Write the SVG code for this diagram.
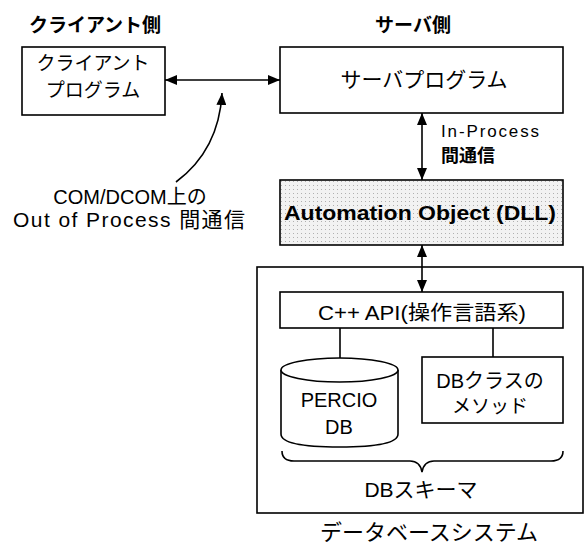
<svg xmlns="http://www.w3.org/2000/svg" width="585" height="545" viewBox="0 0 585 545">
<style>
text{font-family:"Liberation Sans","Noto Sans CJK JP",sans-serif;fill:#000;text-anchor:middle}
.jp{font-family:"Noto Sans CJK JP",sans-serif}
.b{font-weight:bold}
.box{fill:#fff;stroke:#000;stroke-width:1.6}
.ln{fill:none;stroke:#000;stroke-width:1.6}
</style>
<defs>
<marker id="ah" viewBox="0 0 12 10" refX="12" refY="5" markerWidth="12" markerHeight="10" markerUnits="userSpaceOnUse" orient="auto-start-reverse">
<path d="M0,0 L12,5 L0,10 Z" fill="#000"/>
</marker>
<pattern id="dots" width="4" height="4" patternUnits="userSpaceOnUse">
<rect width="4" height="4" fill="#f2f2f2"/>
<rect x="1" y="1" width="1" height="1" fill="#b0b0b0"/>
</pattern>
</defs>

<text class="jp b" x="95" y="32" font-size="19">クライアント側</text>
<text class="jp b" x="413" y="32" font-size="19">サーバ側</text>

<g id="client">
<rect class="box" x="22" y="47" width="143" height="68"/>
<text class="jp" x="93" y="70" font-size="19">クライアント</text>
<text class="jp" x="93" y="97" font-size="19">プログラム</text>
</g>

<g id="server">
<rect class="box" x="280" y="47" width="283" height="66"/>
<text class="jp" x="424" y="87" font-size="21">サーバプログラム</text>
</g>

<g id="automation">
<rect x="280" y="180" width="283" height="65" fill="url(#dots)" stroke="#000" stroke-width="1.6"/>
<text class="b" x="420" y="220" font-size="20" textLength="272" lengthAdjust="spacingAndGlyphs">Automation Object (DLL)</text>
</g>

<g id="dbsystem">
<rect class="ln" x="257" y="267" width="326" height="246"/>
<text class="jp" x="429" y="540" font-size="22">データベースシステム</text>
</g>

<g id="cppapi">
<rect class="box" x="280" y="292" width="283" height="36"/>
<text x="422" y="320" font-size="20" textLength="208" lengthAdjust="spacingAndGlyphs">C++ API(操作言語系)</text>
</g>

<g id="perciodb">
<path class="box" d="M281,370 L281,434 Q281,447 339.5,447 Q398,447 398,434 L398,370"/>
<ellipse class="box" cx="339.5" cy="370" rx="58.5" ry="12"/>
<text x="339" y="407" font-size="20">PERCIO</text>
<text x="339" y="434" font-size="20">DB</text>
</g>

<g id="dbclass">
<rect class="box" x="422" y="357" width="141" height="66"/>
<text x="490" y="388" font-size="20">DBクラスの</text>
<text class="jp" x="490" y="413" font-size="19">メソッド</text>
</g>

<g id="schema">
<path class="ln" d="M282,451 Q282,461 294,461 L410,461 Q420,461 422,472 Q424,461 434,461 L551,461 Q563,461 563,451"/>
<text x="421" y="497" font-size="21">DBスキーマ</text>
</g>

<g id="labels">
<text x="130" y="204" font-size="20">COM/DCOM上の</text>
<text x="129" y="227" font-size="21" textLength="232" lengthAdjust="spacing">Out of Process 間通信</text>
<text x="490" y="137" font-size="17" textLength="98" lengthAdjust="spacing">In-Process</text>
<text class="jp b" x="468" y="162" font-size="18">間通信</text>
</g>

<g id="connectors">
<line class="ln" x1="165" y1="80" x2="280" y2="80" marker-start="url(#ah)" marker-end="url(#ah)"/>
<path class="ln" d="M176,182 Q219,150 222,93" marker-end="url(#ah)"/>
<line class="ln" x1="422" y1="113" x2="422" y2="180" marker-start="url(#ah)" marker-end="url(#ah)"/>
<line class="ln" x1="422" y1="245" x2="422" y2="292" marker-start="url(#ah)" marker-end="url(#ah)"/>
<line class="ln" x1="340" y1="328" x2="340" y2="358"/>
<line class="ln" x1="493" y1="328" x2="493" y2="357"/>
</g>
</svg>
